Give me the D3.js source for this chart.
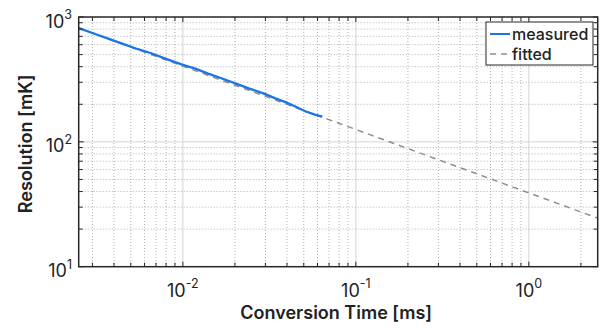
<!DOCTYPE html>
<html>
<head>
<meta charset="utf-8">
<script src="https://cdn.jsdelivr.net/npm/d3@7"></script>
<style>
  body { margin: 0; background: #fff; }
  svg { display: block; font-family: Inter, "Liberation Sans", Arial, sans-serif; }
</style>
</head>
<body>
<svg id="chart" width="600" height="329"></svg>
<script>
// conversion time [ms] vs resolution [mK]
const measuredTime = [0.0025, 0.003, 0.0037, 0.0045, 0.0055, 0.0065, 0.008, 0.01, 0.0118, 0.014, 0.017, 0.0201, 0.024, 0.027, 0.030, 0.034, 0.0392, 0.045, 0.0513, 0.058, 0.064];
const measuredRes = [815, 745, 672, 610, 552, 515, 462, 413, 386, 352, 320, 294, 268, 254, 241, 224, 208, 191, 175, 165, 159];

const fittedTime = [0.0025, 2.5];
const fittedRes = [817, 24.5];

const xTickExp = ['-2', '-1', '0'];
const yTickExp = ['1', '2', '3'];

const legendLabels = ['measured', 'fitted'];

const W = 600;
const H = 329;
const margin = { top: 17, right: 2.3, bottom: 62.3, left: 78.7 };

const svg = d3.select('#chart');
const g = svg.append('g');

const x = d3.scaleLog()
  .domain([0.0025, 2.5])
  .range([margin.left, W - margin.right]);

const y = d3.scaleLog()
  .domain([10, 1000])
  .range([H - margin.bottom, margin.top]);

const isMajor = (v) => Math.abs(Math.log10(v) - Math.round(Math.log10(v))) < 1e-6;

const xTicks = x.ticks().filter((v) => v >= 0.0025 && v <= 2.5);
const yTicks = y.ticks();

// grid
const grid = g.append('g');
xTicks.forEach((v) => {
  grid.append('line')
    .attr('x1', x(v)).attr('x2', x(v))
    .attr('y1', margin.top).attr('y2', H - margin.bottom)
    .attr('stroke', isMajor(v) ? '#d4d4d4' : '#b0b0b0')
    .attr('stroke-width', 1)
    .attr('stroke-dasharray', isMajor(v) ? null : '1,2');
});
yTicks.forEach((v) => {
  if (v === 10 || v === 1000) return;
  grid.append('line')
    .attr('x1', margin.left).attr('x2', W - margin.right)
    .attr('y1', y(v)).attr('y2', y(v))
    .attr('stroke', isMajor(v) ? '#d4d4d4' : '#b0b0b0')
    .attr('stroke-width', 1)
    .attr('stroke-dasharray', isMajor(v) ? null : '1,2');
});

// data lines
const line = d3.line()
  .x((d) => x(d[0]))
  .y((d) => y(d[1]));

g.append('path')
  .datum(fittedTime.map((t, i) => [t, fittedRes[i]]))
  .attr('d', line)
  .attr('fill', 'none')
  .attr('stroke', '#8e8e8e')
  .attr('stroke-width', 1.5)
  .attr('stroke-dasharray', '6,5');

g.append('path')
  .datum(measuredTime.map((t, i) => [t, measuredRes[i]]))
  .attr('d', line)
  .attr('fill', 'none')
  .attr('stroke', '#1a76e6')
  .attr('stroke-width', 2.3);

// inward ticks on all four sides
const ticks = g.append('g').attr('stroke', '#262626').attr('stroke-width', 1);
xTicks.forEach((v) => {
  const len = isMajor(v) ? 5 : 4;
  ticks.append('line').attr('x1', x(v)).attr('x2', x(v))
    .attr('y1', H - margin.bottom).attr('y2', H - margin.bottom - len);
  ticks.append('line').attr('x1', x(v)).attr('x2', x(v))
    .attr('y1', margin.top).attr('y2', margin.top + len);
});
yTicks.forEach((v) => {
  const len = isMajor(v) ? 5 : 4;
  ticks.append('line').attr('y1', y(v)).attr('y2', y(v))
    .attr('x1', margin.left).attr('x2', margin.left + len);
  ticks.append('line').attr('y1', y(v)).attr('y2', y(v))
    .attr('x1', W - margin.right).attr('x2', W - margin.right - len);
});

// axis box
g.append('rect')
  .attr('x', margin.left).attr('y', margin.top)
  .attr('width', W - margin.left - margin.right)
  .attr('height', H - margin.top - margin.bottom)
  .attr('fill', 'none')
  .attr('stroke', '#262626')
  .attr('stroke-width', 1.5);

// tick labels
const labels = g.append('g').attr('fill', '#222');
xTickExp.forEach((e) => {
  const t = labels.append('text')
    .attr('x', x(Math.pow(10, +e)))
    .attr('y', 296.5)
    .attr('text-anchor', 'middle')
    .attr('font-size', 18);
  t.append('tspan').text('10');
  t.append('tspan').attr('dy', -8.5).attr('font-size', 12.5).text(e);
});
yTickExp.forEach((e) => {
  const t = labels.append('text')
    .attr('x', 72)
    .attr('y', y(Math.pow(10, +e)) + 10.5)
    .attr('text-anchor', 'end')
    .attr('font-size', 18);
  t.append('tspan').text('10');
  t.append('tspan').attr('dy', -8.5).attr('font-size', 12.5).text(e);
});

// axis titles
g.append('text')
  .attr('x', (margin.left + W - margin.right) / 2 - 2)
  .attr('y', 319)
  .attr('text-anchor', 'middle')
  .attr('font-size', 18)
  .attr('font-weight', 600)
  .attr('fill', '#222')
  .text('Conversion Time [ms]');

g.append('text')
  .attr('transform', `translate(32, ${(margin.top + H - margin.bottom) / 2 + 2}) rotate(-90)`)
  .attr('text-anchor', 'middle')
  .attr('font-size', 18)
  .attr('font-weight', 600)
  .attr('fill', '#222')
  .text('Resolution [mK]');

// legend
const lg = g.append('g');
lg.append('rect')
  .attr('x', 486).attr('y', 22)
  .attr('width', 107).attr('height', 43)
  .attr('fill', '#fff')
  .attr('stroke', '#262626')
  .attr('stroke-width', 1);

const legendStyles = [
  { stroke: '#1a76e6', dash: null, width: 2 },
  { stroke: '#8e8e8e', dash: '6,5', width: 1.5 }
];
legendLabels.forEach((name, i) => {
  const cy = 34 + i * 20;
  lg.append('line')
    .attr('x1', 490).attr('x2', 510)
    .attr('y1', cy).attr('y2', cy)
    .attr('stroke', legendStyles[i].stroke)
    .attr('stroke-width', legendStyles[i].width)
    .attr('stroke-dasharray', legendStyles[i].dash);
  lg.append('text')
    .attr('x', 512).attr('y', cy + 5.5)
    .attr('font-size', 16)
    .attr('font-weight', 500)
    .attr('fill', '#222')
    .text(name);
});
</script>
</body>
</html>
